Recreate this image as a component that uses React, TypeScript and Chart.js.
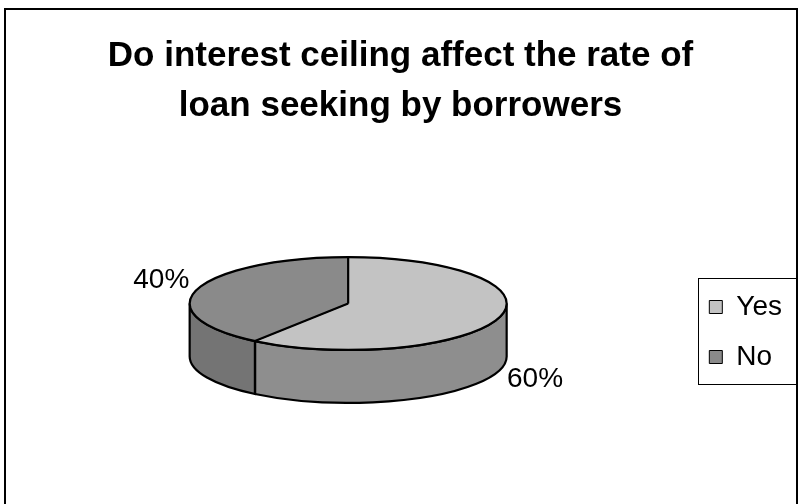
import React, { useEffect, useRef } from "react";
import { Chart, registerables } from "chart.js";

Chart.register(...registerables);

// ---------- data ----------
const TITLE_LINES = ["Do interest ceiling affect the rate of", "loan seeking by borrowers"];
const CATEGORIES = ["Yes", "No"];
const VALUES = [60, 40];

// ---------- style ----------
const TOP_COLORS = ["#c3c3c3", "#8a8a8a"];
const SIDE_COLORS = ["#8e8e8e", "#747474"];
const FONT = "'Liberation Sans', Arial, sans-serif";
const PIE_RADIUS = 158.5;
const TILT = 0.293; // vertical squash of the pie top
const DEPTH_RATIO = 0.334; // side height relative to radius
const LABEL_GAP_X = 38;
const LABEL_GAP_Y = 29;

function sideRange(s: number, e: number): [number, number] | null {
  // visible (front) part of an arc is canvas angle in [0, PI]
  const TWO = Math.PI * 2;
  for (const shift of [-TWO, 0, TWO]) {
    const a1 = Math.max(s + shift, 0);
    const a2 = Math.min(e + shift, Math.PI);
    if (a2 > a1 + 1e-6) return [a1, a2];
  }
  return null;
}

const pie3d = {
  id: "pie3d",
  beforeDraw(chart: any) {
    const { ctx, width, height } = chart;
    ctx.save();
    ctx.fillStyle = "#ffffff";
    ctx.fillRect(0, 0, width, height);
    ctx.restore();
  },
  beforeDatasetsDraw(chart: any) {
    const ctx = chart.ctx;
    const arcs = chart.getDatasetMeta(0).data;
    if (!arcs.length) return;
    const { x: cx, y: cy, outerRadius: r } = arcs[0].getProps(["x", "y", "outerRadius"], true);
    const ry = r * TILT;
    const depth = r * DEPTH_RATIO;
    ctx.save();
    arcs.forEach((arc: any, i: number) => {
      const { startAngle, endAngle } = arc.getProps(["startAngle", "endAngle"], true);
      const rng = sideRange(startAngle, endAngle);
      if (!rng) return;
      const [a1, a2] = rng;
      ctx.beginPath();
      ctx.ellipse(cx, cy, r, ry, 0, a1, a2, false);
      ctx.lineTo(cx + r * Math.cos(a2), cy + depth + ry * Math.sin(a2));
      ctx.ellipse(cx, cy + depth, r, ry, 0, a2, a1, true);
      ctx.closePath();
      ctx.fillStyle = SIDE_COLORS[i];
      ctx.fill();
      ctx.lineWidth = 2.2;
      ctx.strokeStyle = "#000";
      ctx.stroke();
    });
    ctx.restore();
    ctx.save();
    ctx.translate(cx, cy);
    ctx.scale(1, TILT);
    ctx.translate(-cx, -cy);
  },
  afterDatasetsDraw(chart: any) {
    const ctx = chart.ctx;
    ctx.restore();
    const arcs = chart.getDatasetMeta(0).data;
    if (!arcs.length) return;
    const { x: cx, y: cy, outerRadius: r } = arcs[0].getProps(["x", "y", "outerRadius"], true);
    const ry = r * TILT;
    const depth = r * DEPTH_RATIO;
    ctx.save();
    ctx.strokeStyle = "#000";
    ctx.lineWidth = 2.2;
    ctx.beginPath();
    ctx.ellipse(cx, cy, r, ry, 0, 0, Math.PI * 2);
    ctx.stroke();
    const total = VALUES.reduce((a, b) => a + b, 0);
    arcs.forEach((arc: any, i: number) => {
      const { startAngle, endAngle } = arc.getProps(["startAngle", "endAngle"], true);
      const ex = cx + r * Math.cos(startAngle);
      const ey = cy + ry * Math.sin(startAngle);
      ctx.beginPath();
      ctx.moveTo(cx, cy);
      ctx.lineTo(ex, ey);
      if (Math.sin(startAngle) > 0.001) {
        ctx.moveTo(ex, ey);
        ctx.lineTo(ex, ey + depth);
      }
      ctx.stroke();
      // label
      const mid = (startAngle + endAngle) / 2;
      const c = Math.cos(mid);
      const s = Math.sin(mid);
      const lx = cx + c * (r + LABEL_GAP_X);
      const ly = cy + s * (ry + LABEL_GAP_Y) + (s > 0 ? depth : 0);
      ctx.fillStyle = "#000";
      ctx.font = `28px ${FONT}`;
      ctx.textAlign = "center";
      ctx.textBaseline = "middle";
      ctx.fillText(`${Math.round((VALUES[i] / total) * 100)}%`, lx, ly);
    });
    ctx.restore();
  },
  afterDraw(chart: any) {
    const ctx = chart.ctx;
    ctx.save();
    ctx.strokeStyle = "#000";
    // outer chart frame
    ctx.lineWidth = 2;
    ctx.strokeRect(5, 9, 792, 600);
    // legend frame
    const hb = chart.legend && chart.legend.legendHitBoxes;
    if (hb && hb.length) {
      const left = Math.min(...hb.map((h: any) => h.left)) - 11;
      const top = Math.min(...hb.map((h: any) => h.top)) - 15;
      const bottom = Math.max(...hb.map((h: any) => h.top + h.height)) + 13;
      const right = chart.width - 2;
      ctx.lineWidth = 1;
      ctx.strokeRect(Math.round(left) + 0.5, Math.round(top) + 0.5, Math.round(right - left), Math.round(bottom - top));
    }
    ctx.restore();
  },
};

export default function App() {
  const ref = useRef<HTMLCanvasElement | null>(null);
  useEffect(() => {
    if (!ref.current) return;
    const chart = new Chart(ref.current, {
      type: "pie",
      data: {
        labels: CATEGORIES,
        datasets: [
          {
            data: VALUES,
            backgroundColor: TOP_COLORS,
            borderColor: "#000",
            borderWidth: 1,
            radius: PIE_RADIUS,
            clip: false,
          } as any,
        ],
      },
      options: {
        responsive: false,
        animation: false,
        events: [],
        layout: { padding: { left: 9, right: 7, top: 0, bottom: 111 } },
        plugins: {
          title: {
            display: true,
            text: TITLE_LINES,
            color: "#000",
            font: { family: FONT, size: 35, weight: "bold", lineHeight: 50 / 35 },
            padding: { top: 31, bottom: 83 },
          },
          legend: {
            display: true,
            position: "right",
            align: "end",
            labels: {
              color: "#000",
              boxWidth: 13,
              boxHeight: 13,
              padding: 22,
              font: { family: FONT, size: 28 },
            },
          },
          tooltip: { enabled: false },
        },
      },
      plugins: [pie3d],
    });
    return () => chart.destroy();
  }, []);
  return (
    <div style={{ position: "absolute", left: 0, top: 0, width: 799, height: 504 }}>
      <canvas ref={ref} width={799} height={504} style={{ display: "block", width: 799, height: 504 }} />
    </div>
  );
}
